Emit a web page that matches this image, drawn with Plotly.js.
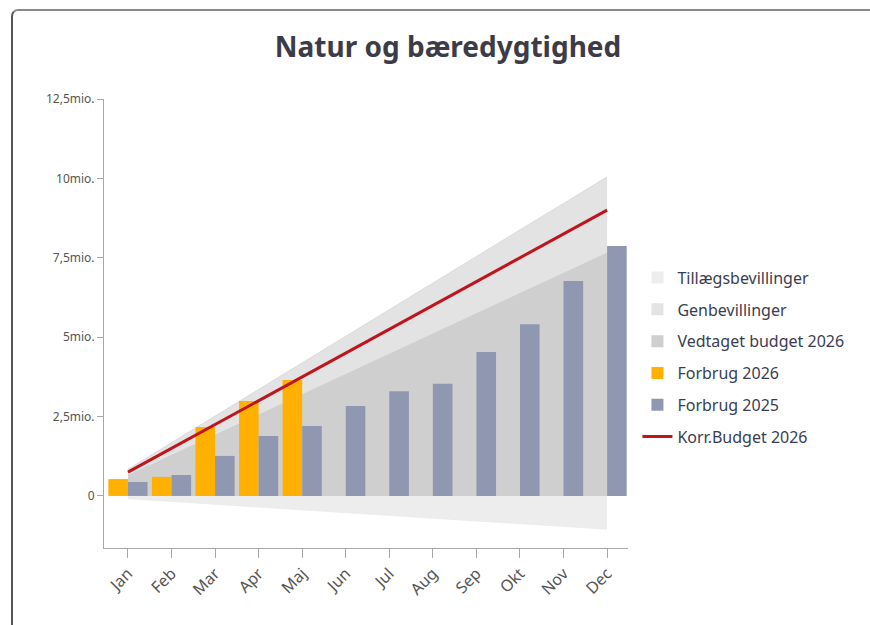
<!DOCTYPE html>
<html>
<head>
<meta charset="utf-8">
<script src="https://cdn.plot.ly/plotly-3.0.1.min.js"></script>
<style>
  html, body { margin: 0; padding: 0; width: 870px; height: 625px; overflow: hidden; background: #fff; }
  #frame {
    position: absolute; left: 11px; top: 9px; width: 900px; height: 660px;
    border-left: 2px solid #555; border-top: 2px solid #8a8a8a; border-top-left-radius: 7px;
  }
  #chart { position: absolute; left: 0; top: 0; width: 870px; height: 625px; }
</style>
</head>
<body>
<div id="frame"></div>
<div id="chart"></div>
<script>
// måneder
const months = ['Jan', 'Feb', 'Mar', 'Apr', 'Maj', 'Jun', 'Jul', 'Aug', 'Sep', 'Okt', 'Nov', 'Dec'];

// akkumulerede beløb i mio. kr.
const vedtaget2026 = [0.64, 1.28, 1.91, 2.55, 3.19, 3.83, 4.46, 5.10, 5.74, 6.38, 7.01, 7.65];
const genbevillinger = [0.20, 0.40, 0.60, 0.80, 1.00, 1.20, 1.40, 1.60, 1.80, 2.00, 2.20, 2.40];
const tillaeg = [-0.09, -0.18, -0.26, -0.35, -0.44, -0.53, -0.61, -0.70, -0.79, -0.88, -0.96, -1.05];
const forbrug2026 = [0.53, 0.60, 2.17, 2.99, 3.65, null, null, null, null, null, null, null];
const forbrug2025 = [0.44, 0.66, 1.26, 1.89, 2.20, 2.83, 3.30, 3.53, 4.53, 5.41, 6.77, 7.87];
const korrBudget = [0.75, 1.50, 2.25, 3.00, 3.75, 4.50, 5.25, 6.00, 6.75, 7.50, 8.25, 9.00];

// y-akse
const yTicks = [0, 2.5, 5, 7.5, 10, 12.5];
const yTickText = ['0', '2,5mio.', '5mio.', '7,5mio.', '10mio.', '12,5mio.'];

// genbevillinger stables oven på vedtaget budget
const genTop = vedtaget2026.map((v, i) => v + genbevillinger[i]);
const empty = months.map(() => null);

const FONT = '"Segoe UI", "Noto Sans", "Open Sans", sans-serif';
const C_TILLAEG = '#ededed';
const C_GEN = '#e3e3e3';
const C_VEDTAGET = '#cfcfcf';

// flader (bagerst) - legenden vises via tomme søjler så symbolet bliver firkantet
const traceTillaeg = {
    x: months, y: tillaeg, name: 'Tillægsbevillinger',
    type: 'scatter', mode: 'lines', fill: 'tozeroy',
    fillcolor: C_TILLAEG, line: { width: 0.5, color: '#e6e6e6' },
    showlegend: false, hoverinfo: 'skip'
};
const traceGen = {
    x: months, y: genTop, name: 'Genbevillinger',
    type: 'scatter', mode: 'lines', fill: 'tozeroy',
    fillcolor: C_GEN, line: { width: 0.8, color: '#d6d6d6' },
    showlegend: false, hoverinfo: 'skip'
};
const traceVedtaget = {
    x: months, y: vedtaget2026, name: 'Vedtaget budget 2026',
    type: 'scatter', mode: 'lines', fill: 'tozeroy',
    fillcolor: C_VEDTAGET, line: { width: 0.5, color: '#cbcbcb' },
    showlegend: false, hoverinfo: 'skip'
};

const legendTillaeg = { x: months, y: empty, name: 'Tillægsbevillinger', type: 'bar', marker: { color: C_TILLAEG }, legendgroup: 'a' };
const legendGen = { x: months, y: empty, name: 'Genbevillinger', type: 'bar', marker: { color: C_GEN }, legendgroup: 'b' };
const legendVedtaget = { x: months, y: empty, name: 'Vedtaget budget 2026', type: 'bar', marker: { color: C_VEDTAGET }, legendgroup: 'c' };

// søjler + linje på overlay-akser så de tegnes oven på fladerne
const trace2026 = {
    x: months, y: forbrug2026, name: 'Forbrug 2026', type: 'bar',
    xaxis: 'x2', yaxis: 'y2',
    marker: { color: '#ffb000' }, legendgroup: 'd'
};
const trace2025 = {
    x: months, y: forbrug2025, name: 'Forbrug 2025', type: 'bar',
    xaxis: 'x2', yaxis: 'y2',
    marker: { color: '#9097b0' }, legendgroup: 'e'
};
const traceKorr = {
    x: months, y: korrBudget, name: 'Korr.Budget 2026',
    type: 'scatter', mode: 'lines', xaxis: 'x2', yaxis: 'y2',
    line: { color: '#c0141c', width: 3 }, legendgroup: 'f'
};

const data = [traceTillaeg, traceGen, traceVedtaget,
    legendTillaeg, legendGen, legendVedtaget,
    trace2026, trace2025, traceKorr];

const xRange = [-0.55, 11.48];
const yRange = [-1.64, 12.5];

const layout = {
    width: 870,
    height: 625,
    margin: { l: 104, r: 242, t: 99, b: 77 },
    paper_bgcolor: 'rgba(0,0,0,0)',
    plot_bgcolor: 'rgba(0,0,0,0)',
    font: { family: FONT, color: '#555' },
    title: {
        text: '<b>Natur og bæredygtighed</b>',
        font: { family: FONT, size: 28, color: '#3c3c48' },
        x: 0.515, xanchor: 'center', y: 0.925, yanchor: 'middle'
    },
    barmode: 'group',
    bargap: 0.1,
    bargroupgap: 0,
    showlegend: true,
    legend: {
        x: 1.018, xanchor: 'left',
        y: 0.64, yanchor: 'top',
        traceorder: 'grouped',
        tracegroupgap: 8,
        font: { family: FONT, size: 16, color: '#3a3d52' },
        bgcolor: 'rgba(0,0,0,0)'
    },
    xaxis: {
        type: 'category',
        categoryarray: months,
        range: xRange,
        showline: true, linecolor: '#a8a8a8', linewidth: 1,
        ticks: 'outside', ticklen: 9, tickcolor: '#a8a8a8',
        tickangle: -45,
        tickfont: { family: FONT, size: 16, color: '#555' },
        showgrid: false, zeroline: false, fixedrange: true
    },
    yaxis: {
        range: yRange,
        tickvals: yTicks, ticktext: yTickText,
        showline: true, linecolor: '#a8a8a8', linewidth: 1,
        ticks: 'outside', ticklen: 6, tickcolor: '#a8a8a8',
        tickfont: { family: FONT, size: 12, color: '#555' },
        showgrid: false, zeroline: false, fixedrange: true
    },
    xaxis2: {
        type: 'category', categoryarray: months,
        range: xRange, overlaying: 'x', visible: false, fixedrange: true
    },
    yaxis2: {
        range: yRange, overlaying: 'y', visible: false, fixedrange: true
    }
};

Plotly.newPlot('chart', data, layout, { displayModeBar: false, staticPlot: true });
</script>
</body>
</html>
